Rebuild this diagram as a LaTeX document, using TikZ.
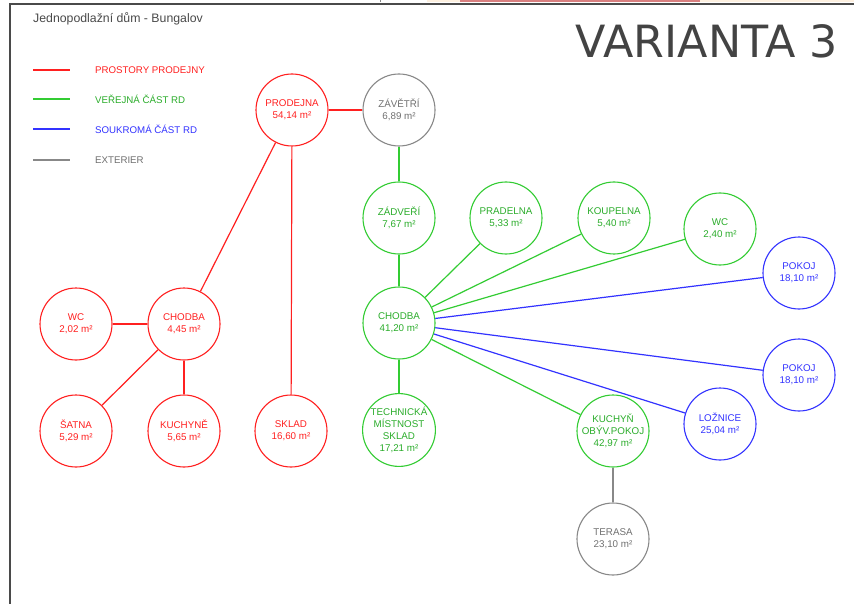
\documentclass[tikz,border=0pt]{standalone}
\usepackage{fontspec}
\setmainfont{Liberation Sans}
\newfontfamily\bigfont{DejaVu Sans}
\definecolor{cred}{HTML}{FF2020}
\definecolor{cgreen}{HTML}{33CC33}
\definecolor{cblue}{HTML}{3333FF}
\definecolor{cgray}{HTML}{888888}
\definecolor{tgray}{HTML}{707070}
\definecolor{frame}{HTML}{4A4A4A}
\definecolor{cream}{HTML}{FDF0E0}
\definecolor{pinkbar}{HTML}{D98080}
\begin{document}
\begin{tikzpicture}[x=1pt,y=-1pt,
  room/.style={circle,draw,line width=1.1pt,minimum size=72pt,inner sep=0pt,align=center,
    font=\fontsize{9.8}{12}\selectfont},
  rred/.style={room,draw=cred,text=cred},
  rgreen/.style={room,draw=cgreen,text=cgreen!85!black},
  rblue/.style={room,draw=cblue,text=cblue},
  rgray/.style={room,draw=cgray,text=tgray},
  lred/.style={draw=cred,line width=1.2pt},
  lgreen/.style={draw=cgreen,line width=1.2pt},
  lblue/.style={draw=cblue,line width=1.2pt},
  lgray/.style={draw=cgray,line width=1.2pt},
  legtext/.style={anchor=west,inner sep=0pt,font=\fontsize{9.7}{11}\selectfont}]
\useasboundingbox (0,0) rectangle (854,604);
% screenshot frame
\fill[white] (0,0) rectangle (854,604);
\fill[cream] (427,0) rectangle (854,2.5);
\fill[pinkbar] (460,0) rectangle (700,2.5);
\draw[cgray,line width=0.8pt] (380,0) -- (380,2.5);
\draw[frame,line width=2pt] (10,604) -- (10,4) -- (854,4);
% title
\node[anchor=west,inner sep=0pt,text=frame,font=\fontsize{12.3}{14}\selectfont] (title) at (33,19) {Jednopodlažní dům - Bungalov};
\node[anchor=east,inner sep=0pt,text=frame!90!black,font=\bigfont\fontsize{44.4}{50}\selectfont] (var) at (838,41) {VARIANTA 3};
% legend
\coordinate (l1a) at (33,70); \coordinate (l1b) at (70,70);
\coordinate (l2a) at (33,99); \coordinate (l2b) at (70,99);
\coordinate (l3a) at (33,129); \coordinate (l3b) at (70,129);
\coordinate (l4a) at (33,160); \coordinate (l4b) at (70,160);
\draw[lred] (l1a) -- (l1b);
\draw[lgreen] (l2a) -- (l2b);
\draw[lblue] (l3a) -- (l3b);
\draw[lgray] (l4a) -- (l4b);
\node[legtext,text=cred] (t1) at (95,70) {PROSTORY PRODEJNY};
\node[legtext,text=cgreen!85!black] (t2) at (95,99) {VEŘEJNÁ ČÁST RD};
\node[legtext,text=cblue] (t3) at (95,129) {SOUKROMÁ ČÁST RD};
\node[legtext,text=tgray] (t4) at (95,160) {EXTERIER};
% rooms
\node[rred] (prod) at (292,110) {PRODEJNA\\54,14 m²};
\node[rgray] (zav) at (399,110) {ZÁVĚTŘÍ\\6,89 m²};
\node[rred] (wcr) at (76,324) {WC\\2,02 m²};
\node[rred] (chr) at (184,324) {CHODBA\\4,45 m²};
\node[rred] (sat) at (76,431) {ŠATNA\\5,29 m²};
\node[rred] (kuchr) at (184,431) {KUCHYNĚ\\5,65 m²};
\node[rred] (sklad) at (291,431) {SKLAD\\16,60 m²};
\node[rgreen] (zad) at (399,218) {ZÁDVEŘÍ\\7,67 m²};
\node[rgreen] (prad) at (506,218) {PRADELNA\\5,33 m²};
\node[rgreen] (koup) at (614,218) {KOUPELNA\\5,40 m²};
\node[rgreen] (wcg) at (720,229) {WC\\2,40 m²};
\node[rgreen] (chg) at (399,323) {CHODBA\\41,20 m²};
\node[rgreen] (tech) at (399,430) {TECHNICKÁ\\MÍSTNOST\\SKLAD\\17,21 m²};
\node[rgreen] (kuch) at (613,431) {KUCHYŇ\\OBÝV.POKOJ\\42,97 m²};
\node[rblue] (pok1) at (799,273) {POKOJ\\18,10 m²};
\node[rblue] (pok2) at (799,375) {POKOJ\\18,10 m²};
\node[rblue] (lozn) at (720,424) {LOŽNICE\\25,04 m²};
\node[rgray] (ter) at (613,539) {TERASA\\23,10 m²};
% connectors
\draw[lred] (prod) -- (zav);
\draw[lred] (prod) -- (chr);
\draw[lred] (prod) -- (sklad);
\draw[lred] (chr) -- (wcr);
\draw[lred] (chr) -- (sat);
\draw[lred] (chr) -- (kuchr);
\draw[lgreen] (zav) -- (zad);
\draw[lgreen] (zad) -- (chg);
\draw[lgreen] (chg) -- (prad);
\draw[lgreen] (chg) -- (koup);
\draw[lgreen] (chg) -- (wcg);
\draw[lgreen] (chg) -- (tech);
\draw[lgreen] (chg) -- (kuch);
\draw[lblue] (chg) -- (pok1);
\draw[lblue] (chg) -- (pok2);
\draw[lblue] (chg) -- (lozn);
\draw[lgray] (kuch) -- (ter);
\end{tikzpicture}
\end{document}
